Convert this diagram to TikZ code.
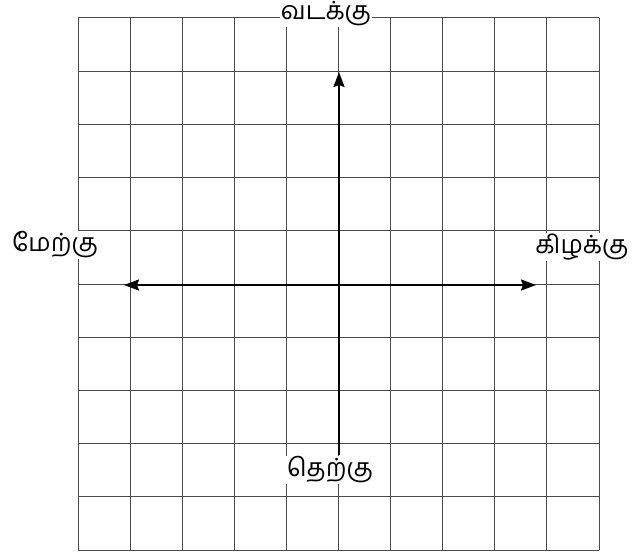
\documentclass[tikz,border=0pt]{standalone}
\usepackage{fontspec}
\newfontfamily\tamilfont[Script=Tamil]{Hind Madurai}
\usetikzlibrary{arrows.meta}
\begin{document}
\begin{tikzpicture}[x=1pt,y=-1pt,
  gridline/.style={draw=black!70,line width=1pt},
  axis/.style={line width=2pt,-{Stealth[length=15pt,width=11pt,inset=2pt]}},
  label/.style={font=\tamilfont\fontsize{25}{28}\selectfont,fill=white,inner sep=1pt}]
\useasboundingbox (0,0) rectangle (632,559);
\foreach \i in {0,...,10}{
  \draw[gridline] ({78+52.1*\i},18) -- ({78+52.1*\i},550);
  \draw[gridline] (78,{18+53.2*\i}) -- (599,{18+53.2*\i});
}
\coordinate (c) at (339,285);
\coordinate (s) at (339,455);
\coordinate (n) at (339,72);
\coordinate (w) at (124,285);
\coordinate (e) at (536,285);
\draw[axis] (s) -- (n);
\draw[axis] (c) -- (w);
\draw[axis] (c) -- (e);
\node[label] (north) at (326,14) {வடக்கு};
\node[label] (west) at (55,245) {மேற்கு};
\node[label] (east) at (582,247) {கிழக்கு};
\node[label] (south) at (330,470) {தெற்கு};
\end{tikzpicture}
\end{document}
